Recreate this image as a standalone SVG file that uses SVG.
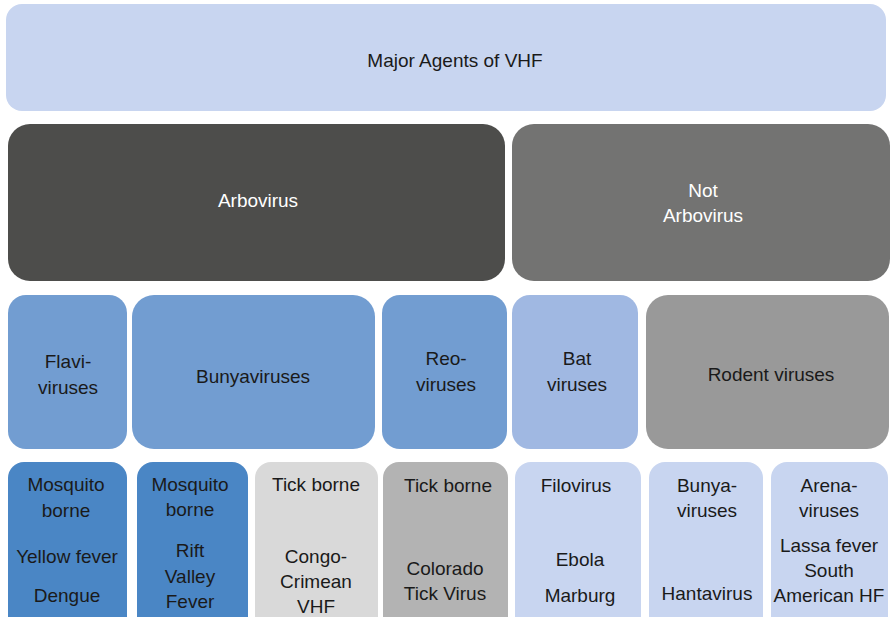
<svg xmlns="http://www.w3.org/2000/svg" width="891" height="617" viewBox="0 0 891 617">
<style>
text{font-family:"Liberation Sans",Arial,sans-serif;font-size:19px;fill:#1a1a1a;text-anchor:middle}
.w{fill:#ffffff}
</style>
<rect width="891" height="617" fill="#ffffff"/>
<g id="root"><rect x="6" y="4" width="880" height="107" rx="16" fill="#c8d5f0"/><text x="455" y="67">Major Agents of VHF</text></g>
<g id="arbo"><rect x="8" y="124" width="497" height="157" rx="22" fill="#4d4d4b"/><text class="w" x="258" y="207">Arbovirus</text></g>
<g id="notarbo"><rect x="512" y="124" width="378" height="157" rx="22" fill="#737372"/><text class="w" x="703" y="197">Not</text><text class="w" x="703" y="222">Arbovirus</text></g>
<g id="flavi"><rect x="8" y="295" width="119" height="154" rx="18" fill="#729dd1"/><text x="68" y="368">Flavi-</text><text x="68" y="394">viruses</text></g>
<g id="bunya"><rect x="132" y="295" width="243" height="154" rx="22" fill="#729dd1"/><text x="253" y="383">Bunyaviruses</text></g>
<g id="reo"><rect x="382" y="295" width="125" height="154" rx="18" fill="#729dd1"/><text x="446" y="365">Reo-</text><text x="446" y="391">viruses</text></g>
<g id="bat"><rect x="512" y="295" width="126" height="154" rx="18" fill="#a0b8e2"/><text x="577" y="365">Bat</text><text x="577" y="391">viruses</text></g>
<g id="rodent"><rect x="646" y="295" width="243" height="154" rx="22" fill="#999999"/><text x="771" y="381">Rodent viruses</text></g>
<g id="mosq1"><rect x="8" y="462" width="119" height="170" rx="16" fill="#4a86c5"/><text x="66" y="491">Mosquito</text><text x="66" y="517">borne</text><text x="67" y="563">Yellow fever</text><text x="67" y="602">Dengue</text></g>
<g id="mosq2"><rect x="137" y="462" width="111" height="170" rx="16" fill="#4a86c5"/><text x="190" y="491">Mosquito</text><text x="190" y="516">borne</text><text x="190" y="557">Rift</text><text x="190" y="583">Valley</text><text x="190" y="608">Fever</text></g>
<g id="tick1"><rect x="255" y="462" width="123" height="170" rx="16" fill="#d9d9d9"/><text x="316" y="491">Tick borne</text><text x="316" y="563">Congo-</text><text x="316" y="588">Crimean</text><text x="316" y="613">VHF</text></g>
<g id="tick2"><rect x="383" y="462" width="125" height="170" rx="16" fill="#b3b3b3"/><text x="448" y="492">Tick borne</text><text x="445" y="575">Colorado</text><text x="445" y="600">Tick Virus</text></g>
<g id="filo"><rect x="515" y="462" width="126" height="170" rx="16" fill="#c8d5f0"/><text x="576" y="492">Filovirus</text><text x="580" y="566">Ebola</text><text x="580" y="602">Marburg</text></g>
<g id="bunya2"><rect x="649" y="462" width="114" height="170" rx="16" fill="#c8d5f0"/><text x="707" y="492">Bunya-</text><text x="707" y="517">viruses</text><text x="707" y="600">Hantavirus</text></g>
<g id="arena"><rect x="771" y="462" width="117" height="170" rx="16" fill="#c8d5f0"/><text x="829" y="492">Arena-</text><text x="829" y="517">viruses</text><text x="829" y="552">Lassa fever</text><text x="829" y="577">South</text><text x="829" y="602">American HF</text></g>
<g id="connectors"></g>
</svg>
